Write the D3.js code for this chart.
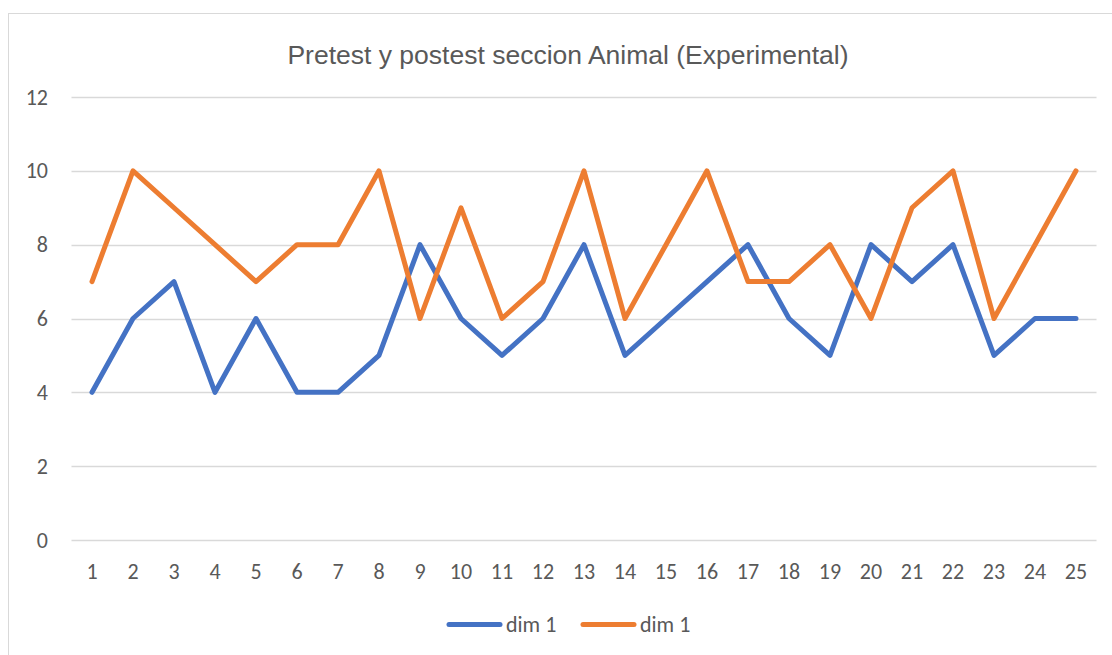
<!DOCTYPE html>
<html>
<head>
<meta charset="utf-8">
<script src="https://cdn.jsdelivr.net/npm/d3@7"></script>
<style>
body { margin: 0; background: #fff; }
svg text { fill: #595959; }
</style>
</head>
<body>
<svg id="chart" width="1112" height="655"></svg>
<script>
var categories = ["1","2","3","4","5","6","7","8","9","10","11","12","13","14","15","16","17","18","19","20","21","22","23","24","25"];
var pretest  = [4,6,7,4,6,4,4,5,8,6,5,6,8,5,6,7,8,6,5,8,7,8,5,6,6];
var postest  = [7,10,9,8,7,8,8,10,6,9,6,7,10,6,8,10,7,7,8,6,9,10,6,8,10];
var y_ticks  = [0,2,4,6,8,10,12];
var series_names = ["dim 1", "dim 1"];
var colors = ["#4472C4", "#ED7D31"];

var svg = d3.select("#chart");

// chart frame
svg.append("rect")
	.attr("x", 8.5).attr("y", 13.5)
	.attr("width", 1200).attr("height", 700)
	.attr("fill", "none")
	.attr("stroke", "#d9d9d9");

svg.append("text")
	.attr("x", 568).attr("y", 64)
	.attr("text-anchor", "middle")
	.style("font-family", "'Liberation Sans', Arial, sans-serif")
	.style("font-size", "26.5px")
	.text("Pretest y postest seccion Animal (Experimental)");

var x = d3.scaleBand().domain(categories).range([71.5, 1096.5]);
var y = d3.scaleLinear().domain([0, 12]).range([540, 97]);

// gridlines
svg.append("g").selectAll("line")
	.data(y_ticks)
	.enter().append("line")
	.attr("x1", 71.5).attr("x2", 1096.5)
	.attr("y1", function(d){ return Math.round(y(d)) + 0.5; })
	.attr("y2", function(d){ return Math.round(y(d)) + 0.5; })
	.attr("stroke", "#d9d9d9")
	.attr("stroke-width", 1.3);

var lab_font = "Carlito, Lato, 'Open Sans', sans-serif";

var yAxis = svg.append("g")
	.attr("transform", "translate(48,0)")
	.call(d3.axisLeft(y).tickValues(y_ticks).tickSize(0).tickPadding(0));
yAxis.select(".domain").remove();
yAxis.selectAll("text")
	.style("font-family", lab_font)
	.style("font-size", "22px")
	.attr("fill", "#595959");

var xAxis = svg.append("g")
	.attr("transform", "translate(0,563)")
	.call(d3.axisBottom(x).tickSize(0).tickPadding(0));
xAxis.select(".domain").remove();
xAxis.selectAll("text")
	.style("font-family", lab_font)
	.style("font-size", "22px")
	.attr("fill", "#595959");

var line = d3.line()
	.x(function(d, i){ return x(categories[i]) + x.bandwidth()/2; })
	.y(function(d){ return y(d); });

[pretest, postest].forEach(function(s, k){
	svg.append("path")
		.datum(s)
		.attr("d", line)
		.attr("fill", "none")
		.attr("stroke", colors[k])
		.attr("stroke-width", 5)
		.attr("stroke-linejoin", "round")
		.attr("stroke-linecap", "round");
});

// legend
var leg_x = [447, 581];
series_names.forEach(function(name, k){
	svg.append("line")
		.attr("x1", leg_x[k] + 2).attr("x2", leg_x[k] + 53)
		.attr("y1", 624.5).attr("y2", 624.5)
		.attr("stroke", colors[k])
		.attr("stroke-width", 5)
		.attr("stroke-linecap", "round");
	svg.append("text")
		.attr("x", leg_x[k] + 59).attr("y", 632)
		.style("font-family", lab_font)
		.style("font-size", "22px")
		.text(name);
});
</script>
</body>
</html>
